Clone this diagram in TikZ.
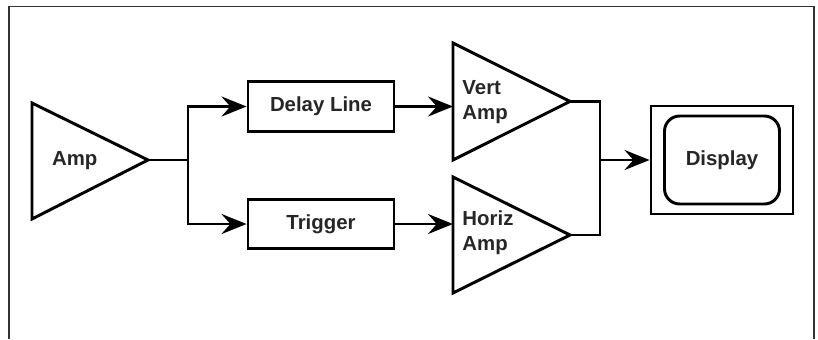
\documentclass[tikz,border=0pt]{standalone}
\usepackage{fontspec}
\setmainfont{Liberation Sans}
\usetikzlibrary{arrows.meta}

\begin{document}
\begin{tikzpicture}[line width=2.1pt, font=\fontsize{14.5}{17.8}\selectfont\bfseries,
	arr/.style={-{Stealth[length=6.25mm,width=5mm,inset=2.2mm]}},
	blk/.style={draw, minimum width=3.65cm, minimum height=1.24cm, text height=0.72em, text depth=0pt, text=black!85},
	lbl/.style={inner sep=0pt, text=black!85, align=left}]
	\useasboundingbox (0,0) rectangle (20.45,8.475);
	\draw[line width=1.1pt, color=black!80] (.23,0) |- (20.35,8.31) -- (20.35,0);
	\draw (.8,5.9) -- (3.7,4.475) -- (.8,3) -- cycle;
	\coordinate (amp) at (3.7,4.475);
	\coordinate (split) at (4.7,4.475);
	\node[lbl, text height=0.72em, text depth=0pt] (amptext) at (1.87,4.475) {Amp};
	\node[blk] (delay) at (8.025,5.8125) {Delay Line};
	\node[blk] (trig) at (8.025,2.875) {Trigger};
	\draw (amp) -- (split);
	\draw[arr] (split) |- (delay.west);
	\draw[arr] (split) |- (trig.west);
	\draw (11.325,7.4) -- (14.25,5.94) -- (11.325,4.475) -- cycle;
	\coordinate (vtip) at (14.25,5.94);
	\coordinate (vin) at (11.325,5.94);
	\node[lbl, anchor=west] (verttext) at (11.525,5.92) {Vert\\Amp};
	\draw (11.325,4.05) -- (14.25,2.6) -- (11.325,1.15) -- cycle;
	\coordinate (htip) at (14.25,2.6);
	\coordinate (hin) at (11.325,2.6);
	\node[lbl, anchor=west] (horiztext) at (11.525,2.65) {Horiz\\Amp};
	\draw[arr] (delay.east) -- (delay.east -| vin);
	\draw[arr] (trig.east) -- (trig.east -| hin);
	\node[draw, minimum width=3.55cm, minimum height=2.7cm] (disp) at (18.05,4.475) {};
	\node[draw, rounded corners=.38cm, minimum width=2.875cm, minimum height=2.2cm, text height=0.72em, text depth=0pt, text=black!85] (screen) at (disp) {Display};
	\coordinate (join) at (15,4.475);
	\draw (vtip) -| (join) |- (htip);
	\draw[arr] (join) -- (disp.west);
\end{tikzpicture}
\end{document}
